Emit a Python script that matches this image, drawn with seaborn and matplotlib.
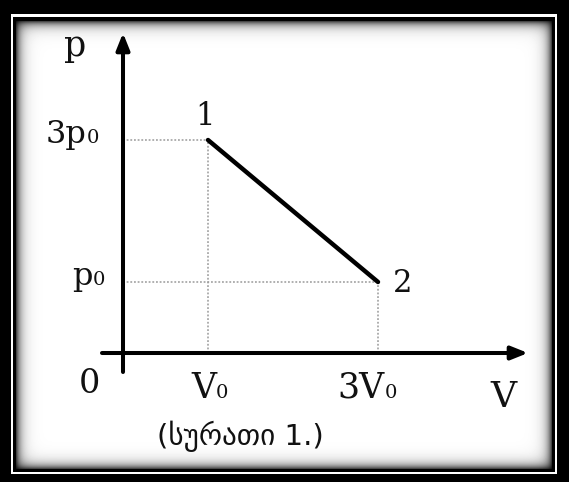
import numpy as np
import matplotlib
matplotlib.use("Agg")
import matplotlib.pyplot as plt
import seaborn as sns

# ---- data (units of V0 and p0) ----
state_labels = ["1", "2"]
volume = [1, 3]
pressure = [3, 1]
x_tick_values = [0, 1, 3]
x_tick_main = ["0", "V", "3V"]
x_tick_sub = ["", "0", "0"]
y_tick_values = [3, 1]
y_tick_main = ["3p", "p"]
y_tick_sub = ["0", "0"]
x_axis_label = "V"
y_axis_label = "p"
caption = "(სურათი 1.)"

sns.set_style("white")
plt.rcParams['font.family'] = ['DejaVu Serif']

W, H = 569, 482
fig = plt.figure(figsize=(W / 100, H / 100), dpi=100)

# ---- decorative frame with inner shadow ----
bg = fig.add_axes([0, 0, 1, 1])
img = np.zeros((H, W))
img[14:474, 11:557] = 1.0
img[17:472, 13:555] = 0.0
x0, x1, y0, y1 = 16, 552, 21, 469
yy, xx = np.mgrid[y0:y1, x0:x1]
dh = np.minimum(xx - x0, x1 - 1 - xx)
dv = np.minimum(yy - y0, y1 - 1 - yy)
a = 0.72 * np.exp(-dh / 5.0)
b = 0.72 * np.exp(-dv / 5.0)
img[y0:y1, x0:x1] = (1 - a) * (1 - b)
bg.imshow(img, cmap='gray', vmin=0, vmax=1, extent=(0, W, H, 0),
          interpolation='nearest', aspect='auto')
bg.set_xlim(0, W)
bg.set_ylim(H, 0)
bg.axis('off')

# ---- main axes: pixel (123,353) is origin, 85 px per V0, 71 px per p0 ----
ox, oy, sx, sy = 123, 353, 85.0, 71.0
ax = fig.add_axes([0, 0, 1, 1])
ax.patch.set_alpha(0)
ax.set_xlim(-ox / sx, (W - ox) / sx)
ax.set_ylim((oy - H) / sy, oy / sy)
ax.axis('off')

def P(px):  # pixels -> points
    return px * 0.72

txt_color = '#111111'

# coordinate axes with arrows
arrow_style = "-|>,head_length=10,head_width=4"
ax.annotate("", xy=((528 - ox) / sx, 0), xytext=((102 - ox) / sx, 0),
            arrowprops=dict(arrowstyle=arrow_style, lw=2.9, color='black',
                            shrinkA=0, shrinkB=0, mutation_scale=1))
ax.annotate("", xy=(0, (oy - 33) / sy), xytext=(0, (oy - 372) / sy),
            arrowprops=dict(arrowstyle=arrow_style, lw=2.9, color='black',
                            shrinkA=0, shrinkB=0, mutation_scale=1))

# dotted guide lines
for v, p in zip(volume, pressure):
    ax.plot([0, v], [p, p], color='#9a9a9a', lw=1.1, ls=(0, (1.2, 1.2)))
    ax.plot([v, v], [0, p], color='#9a9a9a', lw=1.1, ls=(0, (1.2, 1.2)))

# process line 1 -> 2
sns.lineplot(x=volume, y=pressure, sort=False, color='black', lw=3.2, ax=ax)

# state labels
state_offsets = [(-3, 15), (25, -10)]
for lab, v, p, (dx, dy) in zip(state_labels, volume, pressure, state_offsets):
    ax.annotate(lab, xy=(v, p), xytext=(P(dx), P(dy)), textcoords='offset points',
                ha='center', va='baseline', fontsize=22, color=txt_color)

# x tick labels
x_split = [-34, 8, 7]
for t, m, s, dx in zip(x_tick_values, x_tick_main, x_tick_sub, x_split):
    if s:
        ax.annotate(m, xy=(t, 0), xytext=(P(dx), P(-45)), textcoords='offset points',
                    ha='right', va='baseline', fontsize=25, color=txt_color)
        ax.annotate(s, xy=(t, 0), xytext=(P(dx), P(-45)), textcoords='offset points',
                    ha='left', va='baseline', fontsize=14, color=txt_color)
    else:
        ax.annotate(m, xy=(t, 0), xytext=(P(dx), P(-40)), textcoords='offset points',
                    ha='center', va='baseline', fontsize=24, color=txt_color)

# y tick labels
y_split = [-36, -30]
for t, m, s, dx in zip(y_tick_values, y_tick_main, y_tick_sub, y_split):
    ax.annotate(m, xy=(0, t), xytext=(P(dx), P(-3)), textcoords='offset points',
                ha='right', va='baseline', fontsize=23, color=txt_color)
    ax.annotate(s, xy=(0, t), xytext=(P(dx), P(-3)), textcoords='offset points',
                ha='left', va='baseline', fontsize=14, color=txt_color)

# axis labels
fig.text(503 / W, 1 - 407 / H, x_axis_label, ha='center', va='baseline',
         fontsize=26, color=txt_color)
fig.text(75 / W, 1 - 56 / H, y_axis_label, ha='center', va='baseline',
         fontsize=25, color=txt_color)

# caption
fig.text(240 / W, 1 - 436 / H, caption, ha='center', va='center',
         fontsize=21, color=txt_color, family=['DejaVu Sans'])

fig.savefig("out.png", dpi=100)
